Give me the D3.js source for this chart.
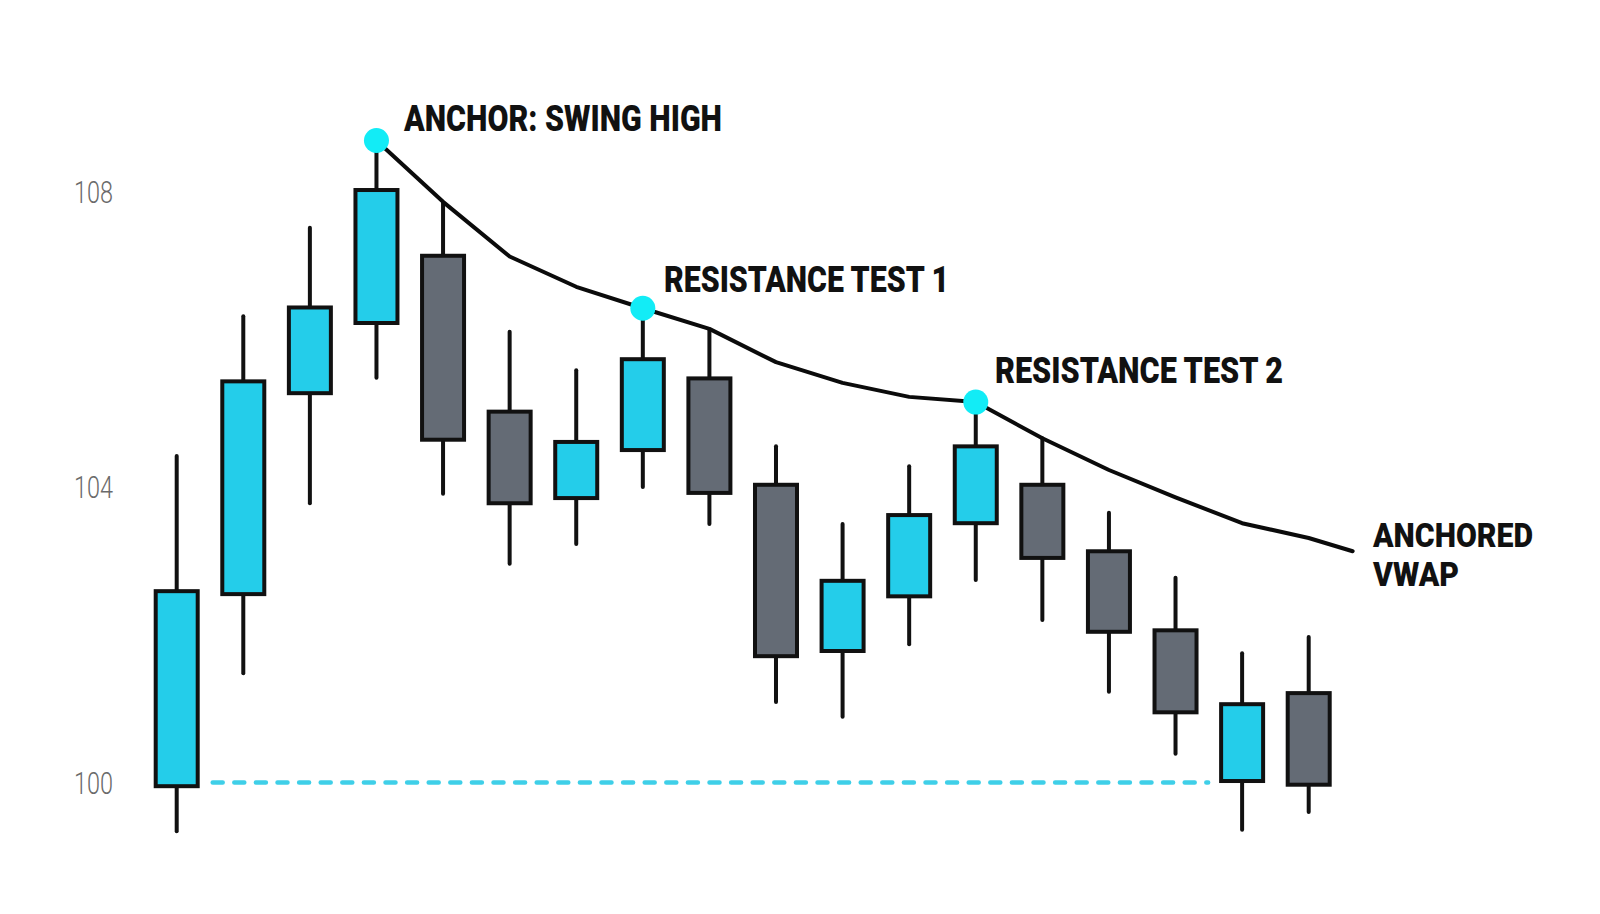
<!DOCTYPE html>
<html>
<head>
<meta charset="utf-8">
<script src="https://cdn.jsdelivr.net/npm/d3@7"></script>
<style>
  html, body { margin: 0; padding: 0; background: #ffffff; }
  svg { display: block; }
</style>
</head>
<body>
<svg id="chart" width="1600" height="914"></svg>
<script>
// ---- data ----
const opens  = [99.95, 102.55, 105.27, 106.22, 107.13, 105.02, 103.85, 104.50, 105.47, 104.03, 101.78, 102.52, 103.51, 104.03, 103.13, 102.06, 100.02, 101.21];
const closes = [102.59, 105.43, 106.43, 108.02, 104.64, 103.78, 104.61, 105.73, 103.92, 101.71, 102.73, 103.62, 104.55, 103.04, 102.04, 100.95, 101.06, 99.97];
const highs  = [104.42, 106.31, 107.51, 108.69, 107.85, 106.10, 105.58, 106.42, 106.13, 104.55, 103.50, 104.28, 105.15, 104.66, 103.65, 102.77, 101.75, 101.97];
const lows   = [99.34, 101.48, 103.78, 105.48, 103.91, 102.96, 103.23, 104.00, 103.50, 101.09, 100.89, 101.87, 102.74, 102.20, 101.23, 100.39, 99.36, 99.60];

// anchored VWAP (candle index, price)
const vwapIdx   = [3, 4, 5, 6, 7, 8, 9, 10, 11, 12, 13, 14, 15, 16, 17, 17.66];
const vwapValue = [108.69, 107.86, 107.12, 106.71, 106.42, 106.14, 105.69, 105.41, 105.22, 105.15, 104.66, 104.23, 103.86, 103.51, 103.31, 103.13];

// highlighted touch points
const markerIdx   = [3, 7, 12];
const markerValue = [108.69, 106.42, 105.15];
const markerLabel = ["ANCHOR: SWING HIGH", "RESISTANCE TEST 1", "RESISTANCE TEST 2"];

const anchorLevel = 100;
const dashedEndIdx = 15.49;
const yTicks = [100, 104, 108];
const vwapLabel = ["ANCHORED", "VWAP"];

// ---- scales ----
const x = d3.scaleLinear().domain([0, 17]).range([176.7, 1308.7]);
const y = d3.scaleLinear().domain([100, 108]).range([782.5, 191.5]);

const svg = d3.select("#chart");
const BLUE = "#24cdea", GREY = "#646b75", CYAN = "#12ecf6", DASH = "#3fcfe8";
const bodyW = 42;

const candles = opens.map((o, i) => ({ i, o, c: closes[i], h: highs[i], l: lows[i] }));

// y axis labels
svg.append("g").selectAll("text").data(yTicks).join("text")
  .attr("x", 74).attr("y", d => y(d))
  .attr("dy", "0.36em")
  .attr("font-family", "Roboto, 'Open Sans', sans-serif")
  .attr("font-weight", 300)
  .attr("font-size", 31)
  .attr("fill", "#6a6a6a")
  .attr("textLength", 39)
  .attr("lengthAdjust", "spacingAndGlyphs")
  .text(d => d);

// dashed anchor level
svg.append("line")
  .attr("x1", x(0) + 36).attr("x2", x(dashedEndIdx))
  .attr("y1", y(anchorLevel)).attr("y2", y(anchorLevel))
  .attr("stroke", DASH).attr("stroke-width", 4.5)
  .attr("stroke-linecap", "round")
  .attr("stroke-dasharray", "10 11.6");

// wicks
svg.append("g").selectAll("line").data(candles).join("line")
  .attr("x1", d => x(d.i)).attr("x2", d => x(d.i))
  .attr("y1", d => y(d.h)).attr("y2", d => y(d.l))
  .attr("stroke", "#111").attr("stroke-width", 4)
  .attr("stroke-linecap", "round");

// bodies
svg.append("g").selectAll("rect").data(candles).join("rect")
  .attr("x", d => x(d.i) - bodyW / 2)
  .attr("width", bodyW)
  .attr("y", d => y(Math.max(d.o, d.c)))
  .attr("height", d => Math.abs(y(d.o) - y(d.c)))
  .attr("fill", d => d.c >= d.o ? BLUE : GREY)
  .attr("stroke", "#111").attr("stroke-width", 4);

// VWAP line
const vwapPts = vwapIdx.map((v, k) => [x(v), y(vwapValue[k])]);
svg.append("path")
  .attr("d", d3.line()(vwapPts))
  .attr("fill", "none").attr("stroke", "#0b0b0b")
  .attr("stroke-width", 4).attr("stroke-linejoin", "round").attr("stroke-linecap", "round");

// markers
svg.append("g").selectAll("circle").data(markerIdx).join("circle")
  .attr("cx", d => x(d)).attr("cy", (d, k) => y(markerValue[k]))
  .attr("r", 12.5).attr("fill", CYAN);

// annotation labels
const labelFont = "Roboto, 'Liberation Sans', sans-serif";
const labelPos = [[404, 131, 318], [664, 292, 285], [995, 383, 288]];
svg.append("g").selectAll("text").data(markerLabel).join("text")
  .attr("x", (d, k) => labelPos[k][0]).attr("y", (d, k) => labelPos[k][1])
  .attr("font-family", labelFont).attr("font-weight", 900).attr("font-size", 36)
  .attr("fill", "#111")
  .attr("textLength", (d, k) => labelPos[k][2])
  .attr("lengthAdjust", "spacingAndGlyphs")
  .text(d => d);

const vwapLabelW = [160, 86];
svg.append("g").selectAll("text").data(vwapLabel).join("text")
  .attr("x", 1373).attr("y", (d, k) => 547 + k * 39)
  .attr("font-family", labelFont).attr("font-weight", 900).attr("font-size", 34)
  .attr("fill", "#111")
  .attr("textLength", (d, k) => vwapLabelW[k])
  .attr("lengthAdjust", "spacingAndGlyphs")
  .text(d => d);
</script>
</body>
</html>
